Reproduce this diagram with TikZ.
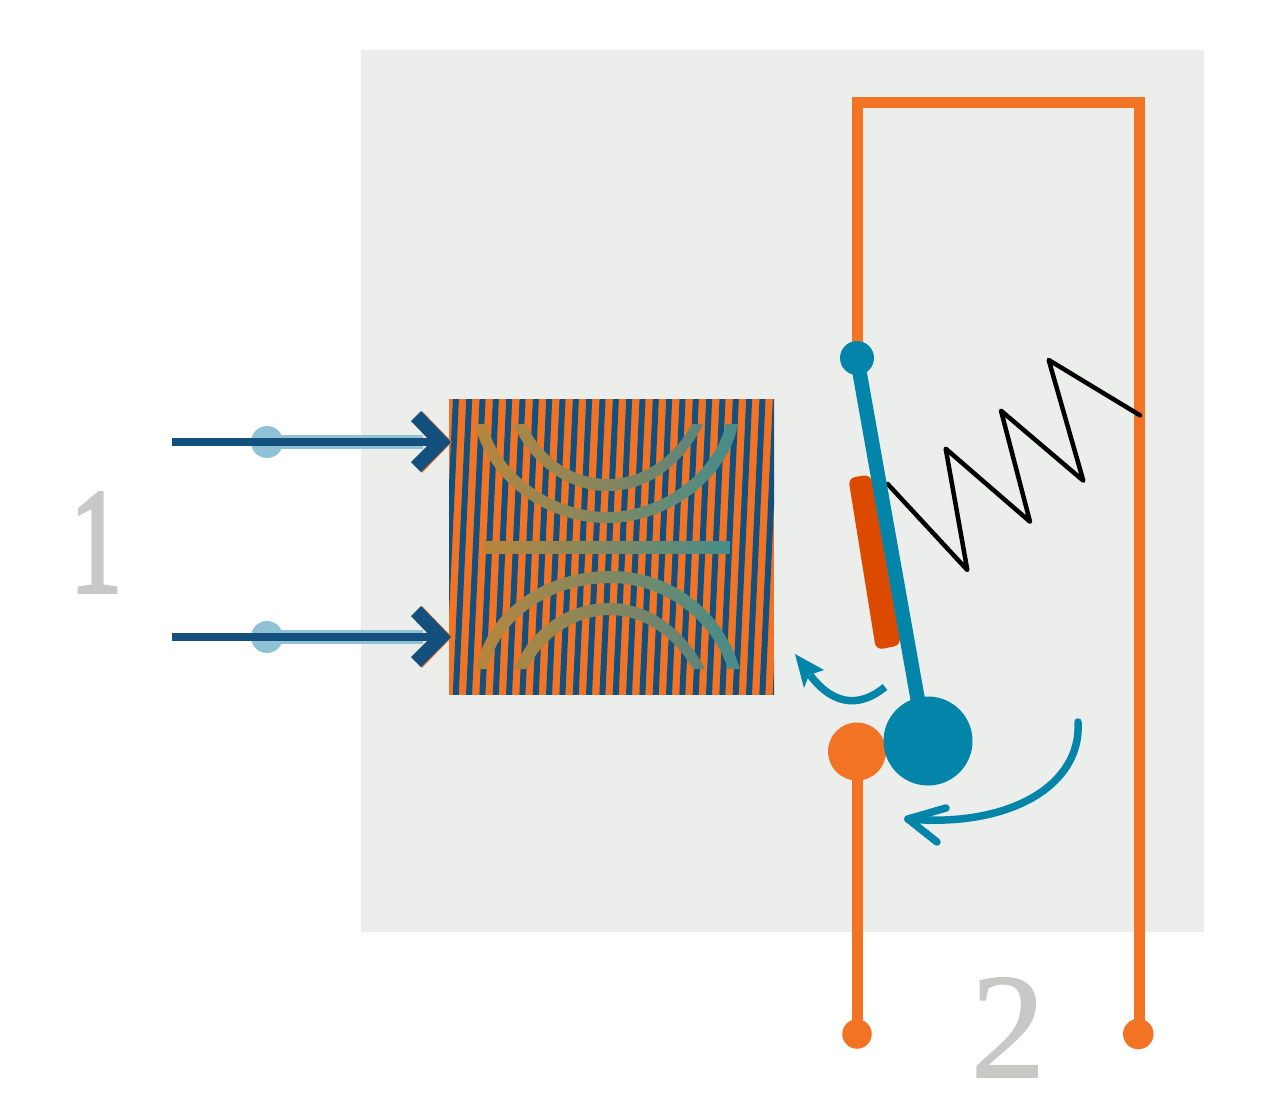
\documentclass[tikz,border=0pt]{standalone}
\usepackage{fontspec}
\newfontfamily\numfont[FakeBold=1]{Liberation Serif}
\newfontfamily\onefont[FakeStretch=0.68,FakeBold=2.5]{Liberation Serif}
\definecolor{panel}{HTML}{ECEEEC}
\definecolor{wire}{HTML}{F37325}
\definecolor{navy}{HTML}{14507E}
\definecolor{teal}{HTML}{0384A9}
\definecolor{pale}{HTML}{8FC2D5}
\definecolor{redbar}{HTML}{DC4A00}
\definecolor{numgrey}{HTML}{C8C9C7}
\definecolor{gL}{HTML}{B9853A}
\definecolor{gR}{HTML}{458C8B}
\definecolor{hL}{HTML}{AC8643}
\definecolor{hR}{HTML}{5C857C}
\tikzset{
  wireline/.style={draw=wire,line width=11pt},
  dot/.style={circle,inner sep=0pt,outer sep=0pt,minimum size=#1},
  wiredot/.style={dot=#1,fill=wire},
  tealdot/.style={dot=#1,fill=teal},
  paledot/.style={dot=#1,fill=pale},
  bignum/.style={text=numgrey,inner sep=0pt,anchor=base},
  bandA/.style={left color=gL,right color=gR,draw=none},
  bandB/.style={left color=hL,right color=hR,draw=none},
  tealcurve/.style={draw=teal,line width=7.5pt,line cap=round,line join=round},
}
\begin{document}
\begin{tikzpicture}[x=1pt,y=-1pt]
\useasboundingbox (0,0) rectangle (1267,1098);
\fill[panel] (361,50) rectangle (1204,932);

% coil
\begin{scope}
\clip (449,399) rectangle (774,694.5);
\fill[wire] (449,399) rectangle (774,695);
\foreach \k in {-2,...,25}{
  \fill[navy] ({455.9+13.33*\k-3},399) -- ({455.9+13.33*\k+3},399)
     -- ({455.9+13.33*\k+3-13.5},695) -- ({455.9+13.33*\k-3-13.5},695) -- cycle;
}
\end{scope}
\shade[bandA] (475,424) .. controls (487,480) and (545,523) .. (607,523)
  .. controls (668,523) and (727,480) .. (738,424) -- (726,424)
  .. controls (714,473) and (662,512) .. (607,512)
  .. controls (552,512) and (498,473) .. (487,424) -- cycle;
\shade[bandB] (513,424) .. controls (530,462) and (565,491) .. (608,491)
  .. controls (650,491) and (685,462) .. (703,424) -- (692,424)
  .. controls (675,455) and (645,479) .. (608,479)
  .. controls (570,479) and (540,455) .. (526,424) -- cycle;
\shade[bandA] (483,541) rectangle (730,553);
\shade[bandA] (476,669) .. controls (487,610) and (545,571) .. (610,571)
  .. controls (672,571) and (722,610) .. (740,669) -- (728,669)
  .. controls (712,620) and (665,583) .. (610,583)
  .. controls (550,583) and (498,620) .. (488,669) -- cycle;
\shade[bandB] (514,669) .. controls (530,630) and (565,603) .. (610,603)
  .. controls (650,603) and (685,630) .. (705,669) -- (693,669)
  .. controls (675,638) and (645,615) .. (610,615)
  .. controls (575,615) and (542,638) .. (528,669) -- cycle;

% input arrows
\foreach \y/\n in {442/a,637/b}{
  \fill[pale] (267,\y-7) rectangle (423,\y+7);
  \node[paledot=32pt] (in\n) at (267,\y) {};
  \coordinate (start\n) at (172,\y);
  \coordinate (end\n) at (436,\y);
  \draw[navy,line width=8pt] (start\n) -- (end\n);
  \fill[wire] (422,\y-31) -- (452,\y) -- (422,\y+31) -- (421,\y+29) -- (449,\y) -- (421,\y-29) -- cycle;
  \fill[navy] (421,\y-31) -- (451,\y) -- (421,\y+30) -- (411,\y+20) -- (431,\y) -- (411,\y-21) -- cycle;
}

% numerals
\node[bignum,font=\onefont\fontsize{150}{150}\selectfont] (one) at (96,592) {1};
\node[bignum,font=\numfont\fontsize{150}{150}\selectfont] (two) at (1008,1077) {2};

% wires
\coordinate (pivotTop) at (857,358);
\coordinate (cornerA) at (857,102);
\coordinate (cornerB) at (1139,102);
\node[wiredot=29.5pt] (termL) at (857,1034) {};
\node[wiredot=30.5pt] (termR) at (1138.3,1034) {};
\node[wiredot=58pt] (contact) at (857,751.5) {};
\draw[wireline,line join=miter] (pivotTop) -- (cornerA) -- (cornerB) -- (1139,1034);
\draw[wireline] (contact.center) -- (termL.center);

% contact strip
\fill[redbar,rounded corners=7pt] (848.3,478) -- (870.7,474.5) -- (901,645) -- (876,650) -- cycle;

% spring
\draw[black,line width=4.5pt,line join=round,line cap=round]
  (887.7,484) -- (967.3,570) -- (945.7,448.7) -- (1030,521.7) -- (1001,410.7)
  -- (1083.3,480.7) -- (1048.7,360) -- (1140,415.3);

% lever
\node[tealdot=89pt] (pivot) at (928,741) {};
\node[tealdot=34pt] (top) at (pivotTop) {};
\draw[teal,line width=14.5pt] (top.center) -- (920,712);

% motion arrows
\coordinate (sS) at (885,687);
\coordinate (sE) at (810,675);
\draw[draw=teal,line width=7.5pt] (sS) .. controls (862,706) and (835,708) .. (sE);
\fill[teal] (795,654) -- (824,670) -- (809,675) -- (804,688) -- cycle;
\coordinate (bS) at (1078,722);
\coordinate (bE) at (908,819);
\draw[tealcurve] (bS) .. controls (1082,785) and (1010,828) .. (bE);
\draw[tealcurve] (946,808) -- (bE) -- (937,842);
\end{tikzpicture}
\end{document}
